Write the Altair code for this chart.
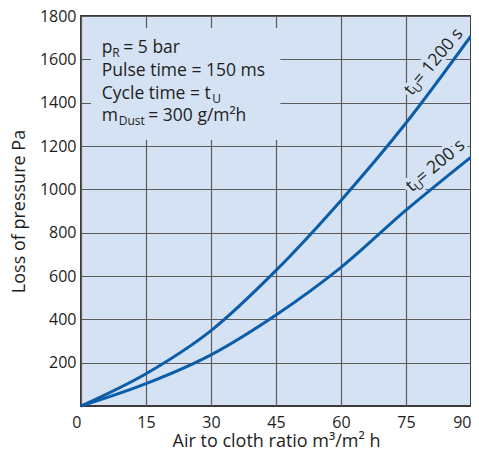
import altair as alt
import pandas as pd

# ---- data ----
air_ratio = [0, 15, 30, 45, 60, 75, 90]
loss_tu1200 = [0, 149, 348, 626, 949, 1306, 1708]
loss_tu200 = [0, 103, 236, 420, 640, 904, 1149]
series = ["tU = 1200 s", "tU = 200 s"]
x_ticks = [0, 15, 30, 45, 60, 75, 90]
y_ticks = [200, 400, 600, 800, 1000, 1200, 1400, 1600, 1800]

BG = "#d4e2f3"
BLUE = "#0b5daa"
GRID = "#5c5c5c"
TXT = "#1e1e1e"
FONT = "Open Sans"

rows = []
for xv, a, b in zip(air_ratio, loss_tu1200, loss_tu200):
    rows.append({"x": xv, "y": a, "s": series[0]})
    rows.append({"x": xv, "y": b, "s": series[1]})
df = pd.DataFrame(rows)

xs = alt.Scale(domain=[0, 90], nice=False, zero=False)
ys = alt.Scale(domain=[0, 1800], nice=False)

xaxis = alt.Axis(values=x_ticks, title="Air to cloth ratio m³/m² h", grid=True, format="d",
                 gridColor=GRID, gridWidth=1.2, gridOpacity=1, domain=False, ticks=False,
                 labelFont=FONT, labelFontSize=16, labelColor=TXT, labelPadding=8,
                 labelAlign={"condition": {"test": "datum.value == 0 || datum.value == 90", "value": "right"},
                             "value": "center"},
                 titleFont=FONT, titleFontSize=18, titleFontWeight="normal", titleColor=TXT,
                 titlePadding=2)
yaxis = alt.Axis(values=y_ticks, title="Loss of pressure Pa", grid=True, format="d",
                 gridColor=GRID, gridWidth=1.2, gridOpacity=1, domain=False, ticks=False,
                 labelFont=FONT, labelFontSize=16, labelColor=TXT, labelPadding=5,
                 titleFont=FONT, titleFontSize=18, titleFontWeight="normal", titleColor=TXT,
                 titlePadding=11)

lines = alt.Chart(df).mark_line(strokeWidth=3, interpolate="monotone").encode(
    x=alt.X("x:Q", scale=xs, axis=xaxis),
    y=alt.Y("y:Q", scale=ys, axis=yaxis),
    detail="s:N",
    color=alt.value(BLUE),
)

# cover behind the info box (hides grid lines there)
cover = alt.Chart(pd.DataFrame({"x": [2.3], "x2": [46], "y": [1228], "y2": [1745]})).mark_rect(
    fill=BG).encode(x=alt.X("x:Q", scale=xs), x2="x2", y=alt.Y("y:Q", scale=ys), y2="y2")

# info box text pieces
box_x = 4.8
box_y = [1630, 1524, 1418, 1317]


def piece(txt, xv, yv, dx=0, dy=0, size=17, angle=0, halo=False):
    d = pd.DataFrame({"x": [xv], "y": [yv], "t": [txt]})
    kw = dict(align="left", baseline="alphabetic", font=FONT, fontSize=size, dx=dx, dy=dy, color=TXT)
    if angle:
        kw["angle"] = angle
    if halo:
        kw.update(stroke=BG, strokeWidth=6, color=BG)
    return alt.Chart(d).mark_text(**kw).encode(
        x=alt.X("x:Q", scale=xs), y=alt.Y("y:Q", scale=ys), text="t:N")


texts = [
    piece("p", box_x, box_y[0], size=17.5),
    piece("R", box_x, box_y[0], dx=10.5, dy=4, size=12),
    piece("= 5 bar", box_x, box_y[0], dx=21.5, size=17.5),
    piece("Pulse time = 150 ms", box_x, box_y[1], size=17.5),
    piece("Cycle time = t", box_x, box_y[2], size=17.5),
    piece("U", box_x, box_y[2], dx=110.5, dy=4, size=12),
    piece("m", box_x, box_y[3], size=17.5),
    piece("Dust", box_x, box_y[3], dx=17, dy=4, size=12),
    piece("= 300 g/m²h", box_x, box_y[3], dx=46.5, size=17.5),
]

# curve labels
lab1 = (76.3, 1430, 310, "= 1200 s")
lab2 = (76.3, 985, 320, "= 200 s")
labels = []
for halo in (True, False):
    for lx, ly, ang, rest in (lab1, lab2):
        labels.append(piece("t", lx, ly, angle=ang, size=17.5, halo=halo))
        labels.append(piece("U", lx, ly, dx=6, dy=3.5, angle=ang, size=12, halo=halo))
        labels.append(piece(rest, lx, ly, dx=13.5, angle=ang, size=17.5, halo=halo))

chart = alt.layer(cover, lines, *labels, *texts).properties(
    width=390, height=390,
    autosize=alt.AutoSizeParams(type="none"),
    padding={"left": 73, "top": 8, "right": 0, "bottom": 42},
).configure_view(fill=BG, stroke="#3a3a3a", strokeWidth=2)

chart.save("out.html", embed_options={"renderer": "svg", "actions": False})
